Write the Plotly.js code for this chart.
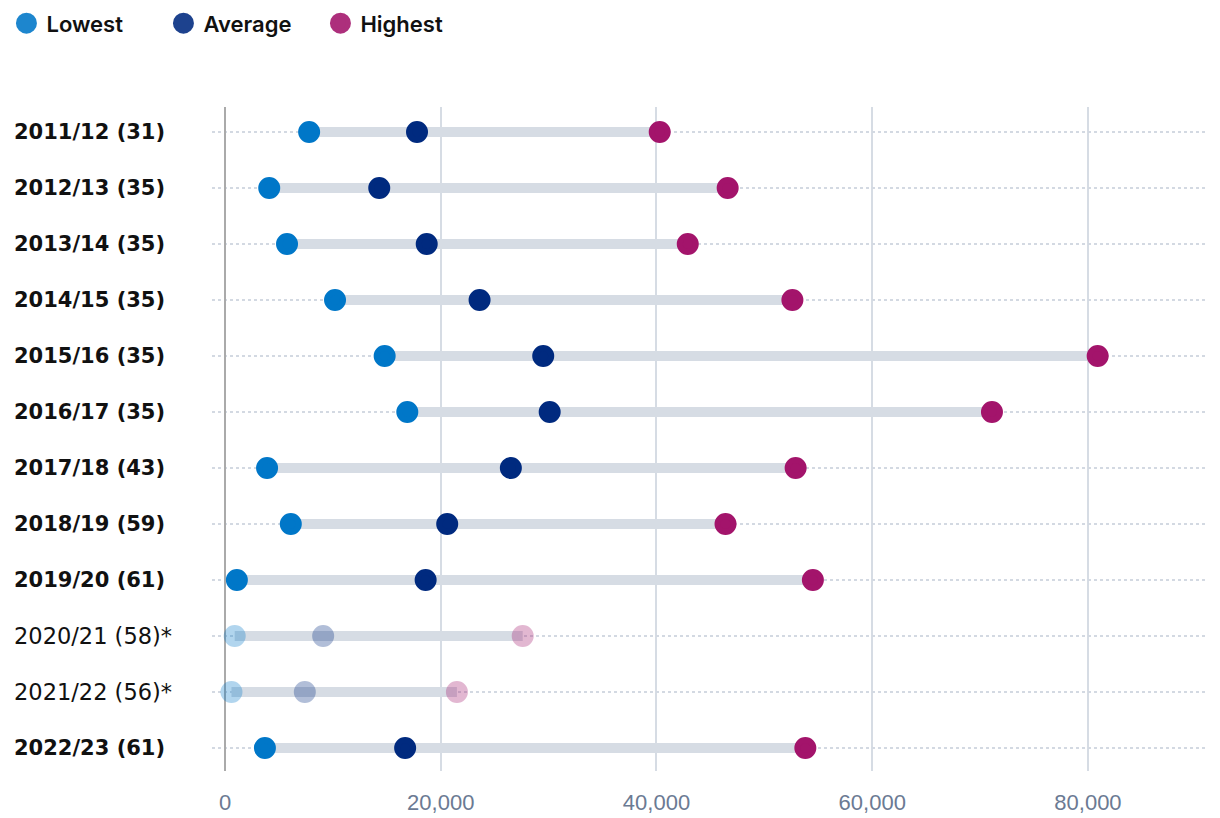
<!DOCTYPE html>
<html>
<head>
<meta charset="utf-8">
<script src="https://cdn.plot.ly/plotly-3.0.1.min.js"></script>
<style>
  html, body { margin: 0; padding: 0; background: #fff; }
  #chart { width: 1220px; height: 818px; }
</style>
</head>
<body>
<div id="chart"></div>
<script>
const seasons = ["2011/12 (31)", "2012/13 (35)", "2013/14 (35)", "2014/15 (35)", "2015/16 (35)", "2016/17 (35)", "2017/18 (43)", "2018/19 (59)", "2019/20 (61)", "2020/21 (58)*", "2021/22 (56)*", "2022/23 (61)"];
const lowest  = [7800, 4100, 5750, 10200, 14800, 16900, 3900, 6100, 1100, 900, 600, 3700];
const average = [17800, 14300, 18700, 23600, 29500, 30100, 26500, 20600, 18600, 9100, 7400, 16700];
const highest = [40300, 46600, 42900, 52600, 80900, 71100, 52900, 46400, 54500, 27600, 21500, 53800];
const partial = [false, false, false, false, false, false, false, false, false, true, true, false];

const FONT = "Inter, 'Noto Sans', sans-serif";
const LABELFONT = "'DejaVu Sans', sans-serif";
const op = partial.map(p => p ? 0.3 : 1);

function dots(name, xs, color) {
  return {
    type: "scatter", mode: "markers", name: name, y: seasons, x: xs,
    marker: { size: 16, color: color, opacity: op, line: { width: 6, color: color } },
    cliponaxis: false, hoverinfo: "skip"
  };
}

const traces = [
  {
    type: "bar", orientation: "h", y: seasons,
    base: lowest, x: highest.map((h, i) => h - lowest[i]),
    width: 0.18, marker: { color: "#d6dce4" }, showlegend: false, hoverinfo: "skip"
  },
  dots("Lowest", lowest, "#0077c8"),
  dots("Average", average, "#002a7f"),
  dots("Highest", highest, "#a3146b")
];

const annotations = seasons.map((s, i) => ({
  xref: "paper", yref: "y", x: -0.2014, y: s, xanchor: "left", yanchor: "middle",
  text: partial[i] ? s : "<b>" + s + "</b>", showarrow: false,
  font: { family: LABELFONT, size: partial[i] ? 22.5 : 21, color: "#111" }
}));

const layout = {
  width: 1220, height: 818,
  margin: { l: 212, r: 15, t: 107, b: 47, autoexpand: false },
  paper_bgcolor: "#fff", plot_bgcolor: "#fff",
  font: { family: FONT },
  barmode: "overlay",
  showlegend: true,
  legend: {
    orientation: "h", x: -0.207, xanchor: "left", y: 1.126, yanchor: "middle",
    font: { family: FONT, size: 22, color: "#111", weight: 600 },
    itemsizing: "trace", itemwidth: 30, tracegroupgap: 0,
    entrywidth: 112, entrywidthmode: "pixels"
  },
  xaxis: {
    range: [-1205, 90850], tickvals: [0, 20000, 40000, 60000, 80000],
    ticktext: ["0", "20,000", "40,000", "60,000", "80,000"],
    showgrid: true, gridcolor: "#d6dce4", gridwidth: 2,
    zeroline: true, zerolinecolor: "#aaaaaa", zerolinewidth: 2,
    showline: false, ticks: "", ticklabelstandoff: 16,
    tickfont: { family: "'Liberation Sans', Arial, sans-serif", size: 22, color: "#6b7a93" }
  },
  yaxis: {
    type: "category", categoryorder: "array", categoryarray: seasons,
    range: [11.41, -0.446],
    showticklabels: false, ticks: "",
    showgrid: true, griddash: "dot", gridcolor: "#d3d9e2", gridwidth: 2,
    zeroline: false, showline: false
  },
  annotations: annotations
};

Plotly.newPlot("chart", traces, layout, { displayModeBar: false, staticPlot: true });
</script>
</body>
</html>
